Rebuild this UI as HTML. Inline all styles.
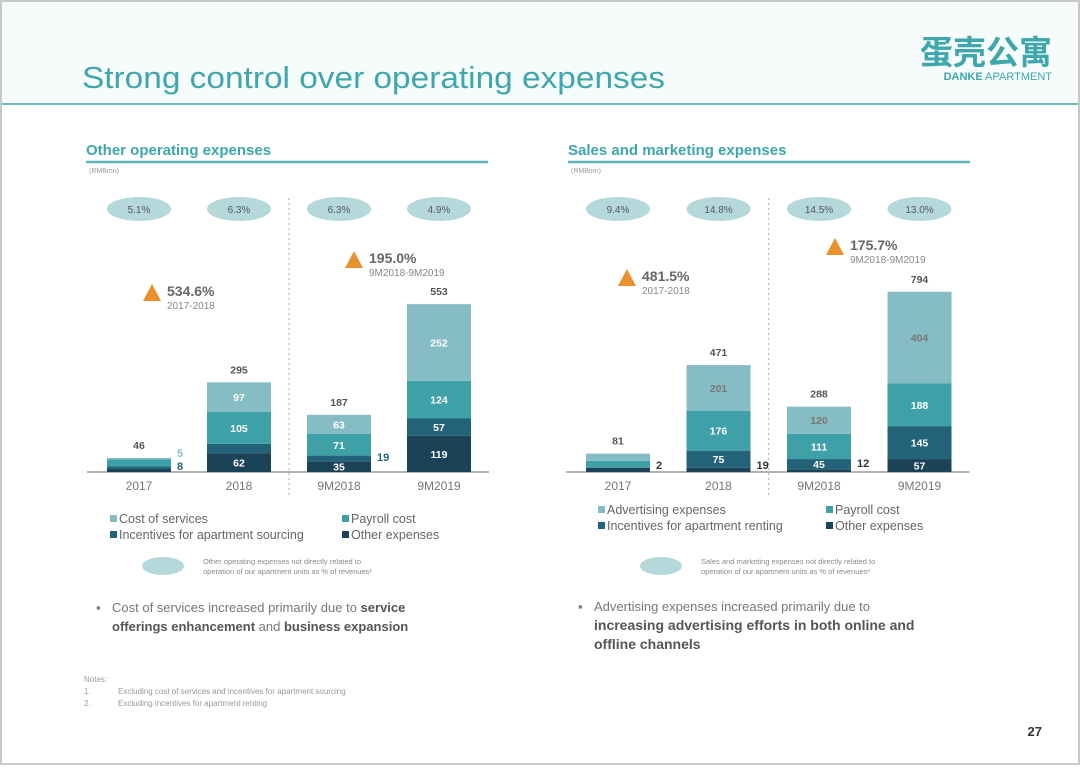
<!DOCTYPE html>
<html><head><meta charset="utf-8"><style>
body{margin:0;width:1080px;height:765px;background:#fff;overflow:hidden;font-family:"Liberation Sans","Noto Sans CJK SC",sans-serif;}
svg text{font-family:"Liberation Sans","Noto Sans CJK SC",sans-serif;}
</style></head><body>
<svg id="s" width="1080" height="765" viewBox="0 0 1080 765">
<rect x="1" y="1" width="1078" height="763" fill="#fff" stroke="#c8c8c8" stroke-width="2"/>
<rect x="2" y="2" width="1076" height="100" fill="#f6fbfb"/>
<line x1="2" y1="104" x2="1078" y2="104" stroke="#6bbcc0" stroke-width="2"/>
<text x="82" y="88" font-size="31" fill="#3ea7ab" textLength="583" lengthAdjust="spacingAndGlyphs">Strong control over operating expenses</text>
<text x="1052" y="64" font-size="33" font-weight="bold" fill="#3ea7ab" text-anchor="end">蛋壳公寓</text>
<text x="1052" y="80" font-size="11" fill="#3ea7ab" text-anchor="end"><tspan font-weight="bold">DANKE</tspan> APARTMENT</text>
<text x="86" y="155" font-size="15" font-weight="bold" fill="#3ea7ab">Other operating expenses</text>
<line x1="86" y1="162" x2="488" y2="162" stroke="#5bb5b9" stroke-width="2.5"/>
<text x="89" y="173" font-size="7" fill="#999">(RMBmn)</text>
<text x="568" y="155" font-size="15" font-weight="bold" fill="#3ea7ab">Sales and marketing expenses</text>
<line x1="568" y1="162" x2="970" y2="162" stroke="#5bb5b9" stroke-width="2.5"/>
<text x="571" y="173" font-size="7" fill="#999">(RMBmn)</text>
<g id="charts"></g>
<text x="1042" y="736" font-size="13" font-weight="bold" fill="#333" text-anchor="end">27</text>
<text x="84" y="682" font-size="8" fill="#999">Notes:</text>
<text x="84" y="694" font-size="8" fill="#999">1.<tspan x="118">Excluding cost of services and incentives for apartment sourcing</tspan></text>
<text x="84" y="706" font-size="8" fill="#999">2.<tspan x="118">Excluding incentives for apartment renting</tspan></text>
<text x="96" y="612" font-size="13" fill="#777">▪<tspan x="112">Cost of services increased primarily due to </tspan><tspan font-weight="bold" fill="#555">service</tspan><tspan x="112" dy="19" font-weight="bold" fill="#555">offerings enhancement</tspan><tspan> and </tspan><tspan font-weight="bold" fill="#555">business expansion</tspan></text>
<text x="578" y="611" font-size="13" fill="#777">▪<tspan x="594">Advertising expenses increased primarily due to</tspan><tspan x="594" dy="19" font-weight="bold" fill="#555" font-size="14">increasing advertising efforts in both online and</tspan><tspan x="594" dy="19" font-weight="bold" fill="#555" font-size="14">offline channels</tspan></text>
</svg>
<script>
const cats=["2017","2018","9M2018","9M2019"];
// left chart series (bottom to top)
const leftOther=[10,62,35,119];
const leftIncent=[8,31,19,57];
const leftPayroll=[23,105,71,124];
const leftCost=[5,97,63,252];
const leftTotals=["46","295","187","553"];
const leftPct=["5.1%","6.3%","6.3%","4.9%"];
// right chart series
const rightOther=[19,19,12,57];
const rightIncent=[2,75,45,145];
const rightPayroll=[28,176,111,188];
const rightAdv=[32,201,120,404];
const rightTotals=["81","471","288","794"];
const rightPct=["9.4%","14.8%","14.5%","13.0%"];
const colors=["#1b4357","#22637a","#3fa1a8","#86bcc4"];
const NS="http://www.w3.org/2000/svg";
const root=document.getElementById('charts');
function mk(tag,attrs,parent,txt){const e=document.createElementNS(NS,tag);for(const k in attrs)e.setAttribute(k,attrs[k]);if(txt!==undefined)e.textContent=txt;(parent||root).appendChild(e);return e;}
function chart(o){
  const g=mk('g',{});
  
  
  const base=472;
  const y=v=>v*o.scale;
  const xc=i=>o.x0+i*o.step;
  const ax=mk('line',{x1:o.x0-52,y1:base,x2:o.x0+3*o.step+50,y2:base,stroke:'#999','stroke-width':1.5},g);
  
  
  const sep=mk('line',{x1:xc(1.5),y1:198,x2:xc(1.5),y2:496,stroke:'#aaa','stroke-dasharray':'2,3'},g);
  
  
  cats.forEach((c,i)=>{
    const cx=xc(i);
    const ov=mk('ellipse',{cx:cx,cy:209,rx:32,ry:12,fill:'#b5d8da'},g);
    
    
    const pt=mk('text',{x:cx,y:213,'font-size':10,fill:'#556','text-anchor':'middle'},g,o.pct[i]);
    
    
    let cum=0;
    o.series.forEach((s,k)=>{
      const v=s[i];const h=y(v);const top=base-y(cum+v);
      const r=mk('rect',{x:cx-32,y:top,width:64,height:h,fill:colors[k]},g);
      
      
      if(h>=9.5){
        const t=mk('text',{x:cx,y:top+h/2+4,'font-size':10.5,'font-weight':'bold',fill:(k==3&&o.darkTop)?'#777':'#fff','text-anchor':'middle'},g,String(v));
        
        
      }
      cum+=v;
    });
    const tt=mk('text',{x:cx,y:base-y(cum)-9,'font-size':10.5,'font-weight':'bold',fill:'#555','text-anchor':'middle'},g,o.totals[i]);
    
    
    const cl=mk('text',{x:cx,y:490,'font-size':12,fill:'#777','text-anchor':'middle'},g,c);
    
    
  });
  o.outside.forEach(a=>{
    const t=mk('text',{x:xc(a[0])+38,y:a[3],'font-size':11,'font-weight':'bold',fill:a[2],'text-anchor':'start'},g,String(o.series[a[1]][a[0]]));
    
    
  });
  o.growth.forEach(gr=>{
    const tri=mk('polygon',{points:`${gr[0]},${gr[1]} ${gr[0]+9},${gr[1]-17} ${gr[0]+18},${gr[1]}`,fill:'#e8912d'},g);
    
    
    const t1=mk('text',{x:gr[0]+24,y:gr[1]-5,'font-size':14,'font-weight':'bold',fill:'#666'},g,gr[2]);
    
    
    const t2=mk('text',{x:gr[0]+24,y:gr[1]+8,'font-size':10,fill:'#888'},g,gr[3]);
    
    
  });
  const swatch=[3,2,1,0];
  o.legend.forEach((l,k)=>{
    const lx=o.legX+(k%2)*o.legDx, ly=o.legY+Math.floor(k/2)*16;
    const sq=mk('rect',{x:lx,y:ly-8,width:7,height:7,fill:colors[swatch[k]]},g);
    
    
    const lt=mk('text',{x:lx+9,y:ly,'font-size':12.5,fill:'#666'},g,l);
    
    
  });
  const fo=mk('ellipse',{cx:o.noteX,cy:566,rx:21,ry:9,fill:'#b5d8da'},g);
  
  
  const n1=mk('text',{x:o.noteX+40,y:564,'font-size':7.5,fill:'#888'},g,o.note1);
  
  
  const n2=mk('text',{x:o.noteX+40,y:574,'font-size':7.5,fill:'#888'},g,o.note2);
  
  
}
chart({name:'other-operating-expenses-chart',x0:139,step:100,scale:0.304,
  series:[leftOther,leftIncent,leftPayroll,leftCost],keys:['other','incentives','payroll','cost'],
  totals:leftTotals,pct:leftPct,darkTop:false,
  outside:[[0,3,'#8cc0c6',457],[0,1,'#22637a',470],[2,1,'#22637a',461]],
  growth:[[143,301,'534.6%','2017-2018'],[345,268,'195.0%','9M2018-9M2019']],
  legend:['Cost of services','Payroll cost','Incentives for apartment sourcing','Other expenses'],legX:110,legDx:232,legY:523,
  noteX:163,note1:'Other operating expenses not directly related to',note2:'operation of our apartment units as % of revenues¹'});
chart({name:'sales-marketing-expenses-chart',x0:618,step:100.5,scale:0.227,
  series:[rightOther,rightIncent,rightPayroll,rightAdv],keys:['other','incentives','payroll','advertising'],
  totals:rightTotals,pct:rightPct,darkTop:true,
  outside:[[0,1,'#333',469],[1,0,'#333',469],[2,0,'#333',467]],
  growth:[[618,286,'481.5%','2017-2018'],[826,255,'175.7%','9M2018-9M2019']],
  legend:['Advertising expenses','Payroll cost','Incentives for apartment renting','Other expenses'],legX:598,legDx:228,legY:514,
  noteX:661,note1:'Sales and marketing expenses not directly related to',note2:'operation of our apartment units as % of revenues²'});
</script>
</body></html>
